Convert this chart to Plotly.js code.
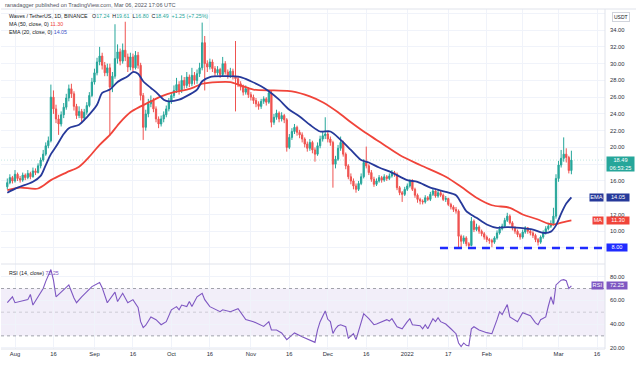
<!DOCTYPE html>
<html><head><meta charset="utf-8">
<script src="https://cdn.plot.ly/plotly-3.0.1.min.js"></script>
<style>html,body{margin:0;padding:0;background:#fff;}#chart{width:636px;height:365px;}</style>
</head><body><div id="chart"></div>
<script>
// ---- Data (daily candles, Waves / TetherUS, Binance) ----
const firstCandleDay = '2021-07-29';
const opens = [15.3,15.8,16.4,16.0,16.8,16.3,16.1,16.7,16.4,16.9,
16.5,17.2,17.0,17.8,18.5,19.2,20.2,20.8,26.0,24.6,
23.4,22.8,23.9,24.8,25.9,27.0,26.4,24.9,23.8,24.3,
23.5,24.2,25.0,26.2,27.8,28.9,30.2,30.9,29.8,28.9,
29.5,27.2,28.5,30.6,31.4,30.3,31.6,30.8,29.6,30.8,
29.5,31.0,29.8,26.2,22.4,24.0,25.2,25.6,24.6,23.4,
22.8,23.4,23.9,24.6,25.5,26.2,26.8,27.5,26.8,28.0,
27.4,28.4,27.6,28.6,28.0,28.8,29.5,32.5,30.0,29.6,
30.2,29.4,28.9,29.3,28.7,30.0,29.0,28.6,29.1,28.5,
28.2,27.6,27.2,26.6,27.0,26.3,26.0,25.6,25.2,24.9,
25.5,25.8,25.4,26.5,23.0,23.6,24.1,23.4,23.8,23.3,
20.0,21.2,21.9,22.4,21.8,21.5,21.0,20.4,19.9,20.6,
19.7,19.2,20.2,21.0,21.4,21.6,21.0,20.6,18.0,18.6,
19.9,20.6,19.2,17.8,16.5,16.0,15.4,15.0,15.7,16.5,
18.2,17.8,17.0,16.2,15.6,16.0,16.4,16.1,16.5,16.3,
16.6,17.0,16.8,15.2,14.6,14.4,15.0,15.4,16.0,15.0,
14.3,13.8,13.6,13.5,14.0,13.8,14.4,14.8,14.2,14.6,
14.3,13.8,13.9,13.2,12.9,12.6,12.4,9.4,8.8,9.2,
8.5,8.3,11.2,10.2,10.5,10.0,9.7,9.3,9.0,8.9,
8.7,9.2,9.8,10.3,10.6,11.3,11.8,11.0,10.4,10.0,
9.6,9.3,9.9,10.4,10.0,9.8,9.5,9.0,8.7,9.3,
9.8,10.3,10.6,10.9,11.8,16.3,17.9,18.7,19.2,18.8,
17.24];
const highs = [16.3,16.8,16.6,17.3,17.0,16.6,17.0,16.9,17.3,17.1,
17.6,17.5,18.1,18.8,19.7,20.6,21.3,27.5,26.8,25.1,
23.9,24.3,25.3,26.4,27.5,27.6,26.7,25.2,24.9,24.6,
24.6,25.4,26.6,28.3,29.4,30.7,32.0,31.3,30.2,30.0,
30.0,29.0,34.7,32.3,31.8,32.4,35.0,31.2,31.3,31.2,
31.5,31.4,30.1,26.5,24.5,25.8,26.2,25.9,24.9,23.7,
23.8,24.3,25.0,25.9,26.6,27.4,28.3,27.9,28.6,28.4,
29.0,28.7,29.5,29.0,29.3,30.1,34.9,33.3,30.4,30.6,
30.5,29.7,29.7,29.5,30.8,30.3,29.3,29.5,29.4,32.7,
28.5,27.9,27.5,27.4,27.2,26.6,26.3,25.9,25.5,25.8,
26.1,26.0,26.9,26.8,24.0,24.5,24.3,24.2,24.0,23.5,
21.6,22.3,22.8,22.6,22.1,21.8,21.2,20.7,21.0,20.8,
20.0,20.6,21.4,21.9,23.6,21.9,21.3,20.8,19.0,20.3,
21.3,20.8,19.4,18.0,16.9,16.3,15.7,16.0,16.9,18.6,
20.1,18.0,17.3,16.5,16.3,16.7,16.6,16.8,16.7,16.9,
17.3,17.2,17.0,15.4,14.8,15.3,15.7,16.2,16.2,15.2,
14.5,14.0,13.8,14.3,14.2,14.7,15.1,14.9,14.9,14.8,
14.5,14.2,14.0,13.4,13.1,12.9,12.6,9.6,9.5,9.4,
8.7,11.7,11.4,10.9,10.7,10.2,9.9,9.5,9.2,9.1,
9.4,10.1,10.6,10.9,11.6,12.2,12.0,11.2,10.6,10.2,
9.8,10.2,10.6,10.5,10.2,10.0,9.7,9.2,9.5,10.1,
10.6,11.0,11.3,12.8,16.8,18.4,19.7,21.2,19.9,19.0,
19.61];
const lows = [15.0,15.6,15.7,15.8,16.0,15.8,15.9,16.1,16.2,16.2,
16.4,16.7,16.9,17.5,18.3,19.0,19.9,20.6,24.0,22.9,
21.5,22.5,23.5,24.5,25.5,25.9,24.4,23.4,23.5,23.0,
23.2,23.9,24.8,26.0,27.5,28.6,29.8,29.3,28.5,28.5,
21.4,26.6,28.2,30.0,29.8,30.0,30.3,29.0,29.2,29.0,
29.3,29.4,25.6,20.9,22.0,23.6,24.8,24.2,23.0,22.3,
22.5,23.0,23.6,24.3,25.2,25.9,26.5,26.3,26.5,27.0,
27.1,27.2,27.3,27.5,27.6,28.4,29.2,26.8,29.0,29.3,
29.0,28.5,28.6,28.3,28.5,28.7,28.2,28.3,28.1,24.3,
27.2,26.8,26.2,26.3,25.9,25.6,25.2,24.8,24.5,24.6,
25.2,25.0,25.2,22.4,22.7,23.3,23.0,23.1,22.9,19.5,
19.8,20.9,21.6,21.4,21.1,20.6,20.0,19.5,19.6,19.3,
18.3,19.0,19.9,20.7,21.0,20.6,20.2,15.2,17.5,18.4,
19.6,18.9,17.4,16.2,15.6,15.0,14.6,14.8,15.5,16.3,
17.5,16.7,15.9,15.3,15.4,15.8,15.8,15.9,16.0,16.1,
16.4,16.5,14.9,14.3,13.5,14.2,14.8,15.2,14.8,14.0,
13.4,13.2,13.2,13.3,13.6,13.6,14.2,14.0,14.0,14.1,
13.6,13.5,13.0,12.6,12.3,12.1,8.0,7.9,8.5,8.2,
7.9,8.2,9.9,10.0,9.7,9.4,9.0,8.7,8.5,8.1,
8.5,9.0,9.6,10.1,10.4,11.1,10.8,10.1,9.7,9.3,
9.0,9.1,9.7,9.7,9.5,9.2,8.7,8.3,8.5,9.1,
9.6,10.1,10.4,10.7,11.5,15.9,17.6,18.3,18.2,16.9,
16.8];
const closes = [15.8,16.4,16.0,16.8,16.3,16.1,16.7,16.4,16.9,16.5,
17.2,17.0,17.8,18.5,19.2,20.2,20.8,26.0,24.6,23.4,
22.8,23.9,24.8,25.9,27.0,26.4,24.9,23.8,24.3,23.5,
24.2,25.0,26.2,27.8,28.9,30.2,30.9,29.8,28.9,29.5,
27.2,28.5,30.6,31.4,30.3,31.6,30.8,29.6,30.8,29.5,
31.0,29.8,26.2,22.4,24.0,25.2,25.6,24.6,23.4,22.8,
23.4,23.9,24.6,25.5,26.2,26.8,27.5,26.8,28.0,27.4,
28.4,27.6,28.6,28.0,28.8,29.5,32.5,30.0,29.6,30.2,
29.4,28.9,29.3,28.7,30.0,29.0,28.6,29.1,28.5,28.2,
27.6,27.2,26.6,27.0,26.3,26.0,25.6,25.2,24.9,25.5,
25.8,25.4,26.5,23.0,23.6,24.1,23.4,23.8,23.3,20.0,
21.2,21.9,22.4,21.8,21.5,21.0,20.4,19.9,20.6,19.7,
19.2,20.2,21.0,21.4,21.6,21.0,20.6,18.0,18.6,19.9,
20.6,19.2,17.8,16.5,16.0,15.4,15.0,15.7,16.5,18.2,
17.8,17.0,16.2,15.6,16.0,16.4,16.1,16.5,16.3,16.6,
17.0,16.8,15.2,14.6,14.4,15.0,15.4,16.0,15.0,14.3,
13.8,13.6,13.5,14.0,13.8,14.4,14.8,14.2,14.6,14.3,
13.8,13.9,13.2,12.9,12.6,12.4,9.4,8.8,9.2,8.5,
8.3,11.2,10.2,10.5,10.0,9.7,9.3,9.0,8.9,8.7,
9.2,9.8,10.3,10.6,11.3,11.8,11.0,10.4,10.0,9.6,
9.3,9.9,10.4,10.0,9.8,9.5,9.0,8.7,9.3,9.8,
10.3,10.6,10.9,11.8,16.3,17.9,18.7,19.2,18.8,17.24,
18.49];

// Indicator readings: day offsets from 2021-08-01 and values
const maDays = [-3,2,9,14,20,25,29,33,37,41,45,49,53,57,62,67,70,73,79,84,88,93,101,108,115,120,126,131,136,141,144,150,158,168,174,180,186,193,198,204,208,210,214,217];
const maVals = [14.9,15.2,15.1,16.1,17.0,17.7,18.9,20.3,21.5,23.0,24.2,24.9,25.5,26.1,26.6,26.9,27.2,27.6,27.8,27.8,27.4,26.9,26.8,26.7,26.1,25.4,24.2,23.0,21.9,20.9,20.3,19.1,17.9,16.5,15.3,14.0,13.1,12.8,12.0,11.4,10.9,10.8,11.1,11.30];
const emaDays = [-3,1,7,10,12,14,16,19,21,25,28,32,34,37,40,44,46,48,50,53,55,58,60,64,68,71,73,76,81,88,92,96,99,103,107,111,115,119,123,127,131,135,138,142,147,153,157,162,168,172,174,176,180,184,188,192,197,202,206,209,211,213,215,217];
const emaVals = [14.6,15.2,15.9,16.6,17.9,19.2,20.1,21.6,22.3,22.7,23.6,25.1,26.5,26.9,27.8,28.5,29.0,28.8,27.9,27.1,26.6,25.7,25.5,25.7,26.3,26.9,27.9,28.4,28.5,28.4,27.9,27.3,26.7,25.7,24.5,23.7,22.7,21.9,21.9,20.9,19.7,18.5,18.2,17.6,17.0,16.1,15.9,15.2,14.7,14.3,13.4,12.4,11.6,10.8,10.4,10.5,10.4,10.2,9.8,9.95,10.7,12.1,13.3,14.05];
const rsiDays = [-3,-1,0,5,6,7,9,10,11,12,14,15,16,18,21,23,24,26,28,30,33,34,36,39,40,42,44,46,48,49,50,51,53,55,57,59,61,63,64,65,67,68,69,71,73,74,76,80,81,84,87,90,93,97,99,100,102,104,106,109,112,114,117,118,119,121,122,123,124,125,126,127,129,130,132,133,136,138,140,141,143,145,146,147,149,151,153,154,155,158,159,160,161,163,164,165,166,168,170,172,173,174,175,176,177,178,179,181,184,186,188,189,190,191,192,193,194,196,198,200,201,203,204,205,207,208,209,210,211,213,214,215,216,217];
const rsiVals = [58,63,58,60.6,65,56,63,67,70,76,86,77,63,67,73,62,58,63,67,71.6,75,70.7,58,67,59,66,58,60.6,54,42,37,39,46,43.7,39.4,42,52,54.7,52,56,54.7,59,54.7,63,66,60.6,54.7,50.4,52,50.4,53,43.7,42,38,42,35,35,32.5,26.8,32.5,29.3,27.6,24.5,35,42,51,44,42,32,36,38.5,39.4,37.7,28,31.8,26.8,48.7,44.5,39.4,40,42,43.7,42.5,44.5,37.7,36,42,44.5,39.4,38.6,36,39.4,36,44.5,42,45.3,42,40,36,31.8,24,21,24,22,21.5,36,37.7,35,32.7,31.8,43.7,50.4,48,52,56.4,46,44.5,42,49.6,48,47,41,39.4,43.7,46,55,63,56.6,73,77,77.5,76.6,70,72.25];

const supportLevel = 8.0;
const supportStart = '2022-01-13 18:00';
const priceTicks = [8,10,12,14,16,18,20,22,24,26,28,30,32,34,36];
const priceTickText = ['','10.00','12.00','','16.00','','20.00','22.00','24.00','26.00','28.00','30.00','32.00','34.00',''];
const rsiTicks = [20,40,60,80];
const tickDates = ['2021-08-01','2021-08-16','2021-09-01','2021-09-16','2021-10-01','2021-10-16','2021-11-01','2021-11-16','2021-12-01','2021-12-16','2022-01-01','2022-01-17','2022-02-01','2022-02-15','2022-03-01','2022-03-16'];
const tickText = ['Aug','16','Sep','16','Oct','16','Nov','16','Dec','16','2022','17','Feb','','Mar','16'];

// ---- helpers ----
const BASE = Date.UTC(2021,7,1);
function dayStr(off){ return new Date(BASE + off*86400000).toISOString().slice(0,10); }
const startOff = (Date.parse(firstCandleDay) - BASE)/86400000;
const dates = closes.map((_, i) => dayStr(startOff + i));
const maDates = maDays.map(dayStr), emaDates = emaDays.map(dayStr), rsiDates = rsiDays.map(dayStr);

const W = 636, H = 365, ML = 1, MR = 31, MT = 9, MB = 16;
const PW = W - ML - MR, PH = H - MT - MB;
const px = X => (X - ML) / PW;
const py = Y => (H - MB - Y) / PH;

const GREEN = '#26a69a', RED = '#ef5350', MAC = '#f0443a', EMAC = '#26399a', RSIC = '#7e57c2', SUP = '#1f2bff';
const FONT = 'Liberation Sans, Arial, sans-serif';
const xRange = ['2021-07-26 13:00', '2022-03-19 02:40'];

const last = closes.length - 1;
const f2 = v => v.toFixed(2);

const traces = [
  {type:'candlestick', x:dates, open:opens, high:highs, low:lows, close:closes, xaxis:'x', yaxis:'y',
   increasing:{line:{color:GREEN, width:1}, fillcolor:GREEN},
   decreasing:{line:{color:RED, width:1}, fillcolor:RED},
   whiskerwidth:0, hoverinfo:'skip', showlegend:false},
  {type:'scatter', mode:'lines', x:maDates, y:maVals, xaxis:'x', yaxis:'y',
   line:{color:MAC, width:1.8, shape:'spline', smoothing:0.8}, hoverinfo:'skip'},
  {type:'scatter', mode:'lines', x:emaDates, y:emaVals, xaxis:'x', yaxis:'y',
   line:{color:EMAC, width:1.8, shape:'spline', smoothing:0.8}, hoverinfo:'skip'},
  {type:'scatter', mode:'lines', x:rsiDates, y:rsiVals, xaxis:'x', yaxis:'y2',
   line:{color:RSIC, width:1.1}, hoverinfo:'skip'}
];

const sp = '\u00a0';
const g = v => `<span style="color:${GREEN}">${v}</span>`;
const boxFont = {family:FONT, size:5.6, color:'#ffffff'};
const hdrFont = {family:FONT, size:5.3, color:'#131722'};
const annotations = [
  {xref:'paper', yref:'paper', x:px(3), y:py(4.5), xanchor:'left', yanchor:'middle', showarrow:false,
   text:'ranadagger published on TradingView.com, Mar 06, 2022 17:06 UTC', font:{family:FONT, size:5.6, color:'#50535e'}},
  {xref:'paper', yref:'paper', x:px(7), y:py(15.7), xanchor:'left', yanchor:'middle', showarrow:false,
   text:'Waves / TetherUS, 1D, BINANCE', font:hdrFont},
  {xref:'paper', yref:'paper', x:px(90), y:py(15.7), xanchor:'left', yanchor:'middle', showarrow:false,
   text:'O'+g(f2(opens[last]))+sp+sp+'H'+g(f2(highs[last]))+sp+sp+'L'+g(f2(lows[last]))+sp+sp+'C'+g(f2(closes[last]))+sp+sp+g('+1.25 (+7.25%)'),
   font:hdrFont},
  {xref:'paper', yref:'paper', x:px(7), y:py(24.3), xanchor:'left', yanchor:'middle', showarrow:false,
   text:'MA (50, close, 0) <span style="color:'+MAC+'">'+f2(maVals[maVals.length-1])+'</span>', font:hdrFont},
  {xref:'paper', yref:'paper', x:px(7), y:py(32.3), xanchor:'left', yanchor:'middle', showarrow:false,
   text:'EMA (20, close, 0) <span style="color:#3a55c8">'+f2(emaVals[emaVals.length-1])+'</span>', font:hdrFont},
  {xref:'paper', yref:'paper', x:px(7), y:py(273), xanchor:'left', yanchor:'middle', showarrow:false,
   text:'RSI (14, close) <span style="color:'+RSIC+'">'+f2(rsiVals[rsiVals.length-1])+'</span>', font:hdrFont},
  // right-side value tags
  {xref:'paper', yref:'y', x:1, xshift:1, y:closes[last], yshift:4, xanchor:'left', yanchor:'top', showarrow:false,
   text:f2(closes[last])+'<br>06:53:25', bgcolor:GREEN, font:boxFont, width:27, height:14, borderpad:0},
  {xref:'paper', yref:'y', x:1, xshift:1, y:emaVals[emaVals.length-1], xanchor:'left', yanchor:'middle', showarrow:false,
   text:f2(emaVals[emaVals.length-1]), bgcolor:EMAC, font:boxFont, width:22, height:6.5, borderpad:0},
  {xref:'paper', yref:'y', x:1, xshift:-1, y:emaVals[emaVals.length-1], xanchor:'right', yanchor:'middle', showarrow:false,
   text:'EMA', bgcolor:EMAC, font:boxFont, width:13, height:6.5, borderpad:0},
  {xref:'paper', yref:'y', x:1, xshift:1, y:maVals[maVals.length-1], xanchor:'left', yanchor:'middle', showarrow:false,
   text:f2(maVals[maVals.length-1]), bgcolor:MAC, font:boxFont, width:22, height:6.5, borderpad:0},
  {xref:'paper', yref:'y', x:1, xshift:-1, y:maVals[maVals.length-1], xanchor:'right', yanchor:'middle', showarrow:false,
   text:'MA', bgcolor:MAC, font:boxFont, width:10, height:6.5, borderpad:0},
  {xref:'paper', yref:'y', x:1, xshift:1, y:supportLevel, xanchor:'left', yanchor:'middle', showarrow:false,
   text:f2(supportLevel), bgcolor:SUP, font:boxFont, width:20, height:6.5, borderpad:0},
  {xref:'paper', yref:'y2', x:1, xshift:1, y:rsiVals[rsiVals.length-1], xanchor:'left', yanchor:'middle', showarrow:false,
   text:f2(rsiVals[rsiVals.length-1]), bgcolor:RSIC, font:boxFont, width:20, height:6.5, borderpad:0},
  {xref:'paper', yref:'y2', x:1, xshift:-1, y:rsiVals[rsiVals.length-1], xanchor:'right', yanchor:'middle', showarrow:false,
   text:'RSI', bgcolor:RSIC, font:boxFont, width:11, height:6.5, borderpad:0},
  {xref:'paper', yref:'paper', x:1, xshift:7, y:py(16.5), xanchor:'left', yanchor:'middle', showarrow:false,
   text:'USDT', bgcolor:'#ffffff', bordercolor:'#d1d4dc', borderwidth:1, borderpad:1, font:{family:FONT, size:5, color:'#131722'}}
];

const lineC = '#e0e3eb';
const shapes = [
  {type:'rect', xref:'paper', yref:'y2', x0:0, x1:1, y0:30, y1:70, fillcolor:'rgba(126,87,194,0.1)', line:{width:0}, layer:'below'},
  {type:'line', xref:'paper', yref:'y2', x0:0, x1:1, y0:70, y1:70, line:{color:'#8a8d96', width:0.8, dash:'3px,3px'}},
  {type:'line', xref:'paper', yref:'y2', x0:0, x1:1, y0:50, y1:50, line:{color:'rgba(138,141,150,0.45)', width:0.8, dash:'3px,3px'}},
  {type:'line', xref:'paper', yref:'y2', x0:0, x1:1, y0:30, y1:30, line:{color:'#8a8d96', width:0.8, dash:'3px,3px'}},
  {type:'line', xref:'x', yref:'y', x0:supportStart, x1:xRange[1], y0:supportLevel, y1:supportLevel, line:{color:SUP, width:2.4, dash:'8px,6px'}},
  {type:'line', xref:'paper', yref:'y', x0:0, x1:1, y0:closes[last], y1:closes[last], line:{color:'rgba(38,166,154,0.35)', width:0.8, dash:'1px,2px'}, layer:'below'},
  {type:'line', xref:'paper', yref:'paper', x0:0, x1:1, y0:py(264), y1:py(264), line:{color:lineC, width:1}},
  {type:'line', xref:'paper', yref:'paper', x0:1, x1:1, y0:0, y1:1, line:{color:lineC, width:1}},
  {type:'line', xref:'paper', yref:'paper', x0:0, x1:1, y0:0, y1:0, line:{color:lineC, width:1}},
  {type:'line', xref:'paper', yref:'paper', x0:0, x1:1.06, y0:1, y1:1, line:{color:lineC, width:1}}
];

const gridC = '#f0f3fa';
const tickFont = {family:FONT, size:5.8, color:'#2a2e39'};
const layout = {
  width:W, height:H, margin:{l:ML, r:MR, t:MT, b:MB, pad:0},
  paper_bgcolor:'#ffffff', plot_bgcolor:'#ffffff', showlegend:false,
  font:{family:FONT, size:6, color:'#131722'},
  xaxis:{type:'date', range:xRange, anchor:'y2', tickvals:tickDates, ticktext:tickText, tickangle:0,
    showgrid:true, gridcolor:gridC, gridwidth:1, zeroline:false, showline:false, ticks:'', tickfont:tickFont,
    rangeslider:{visible:false}, fixedrange:true},
  yaxis:{domain:[py(264), 1], side:'right', range:[6.09, 36.52], tickvals:priceTicks, ticktext:priceTickText,
    showgrid:true, gridcolor:gridC, zeroline:false, showline:false, ticks:'', tickfont:tickFont, ticklabelstandoff:4, fixedrange:true},
  yaxis2:{domain:[0, py(264)], side:'right', range:[18.9, 90.7], tickvals:rsiTicks, tickformat:'.2f',
    showgrid:true, gridcolor:gridC, zeroline:false, showline:false, ticks:'', tickfont:tickFont, ticklabelstandoff:4, fixedrange:true},
  annotations:annotations, shapes:shapes
};

Plotly.newPlot('chart', traces, layout, {staticPlot:true, displayModeBar:false});
</script>
</body></html>
